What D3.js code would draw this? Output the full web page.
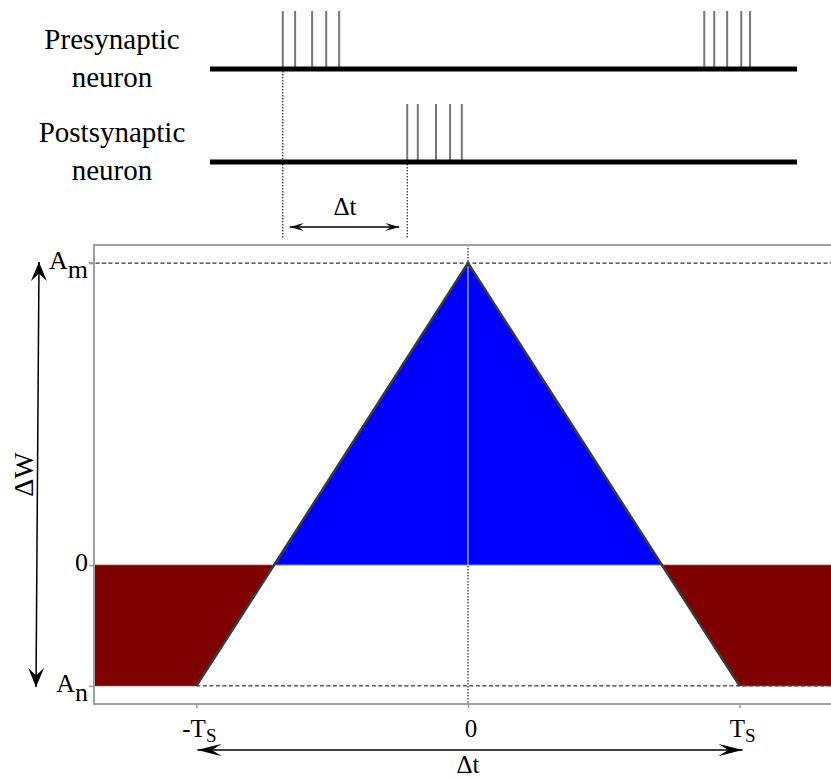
<!DOCTYPE html>
<html>
<head>
<meta charset="utf-8">
<script src="https://cdn.jsdelivr.net/npm/d3@7"></script>
</head>
<body style="margin:0">
<script>
// spike times (ms) on the two trains
const preSpikes = [12.4, 14.5, 17.4, 19.8, 22.0, 84.2, 85.9, 88.1, 90.5, 92.0];
const postSpikes = [33.6, 35.4, 38.5, 40.9, 42.9];
const trainNames = [["Presynaptic", "neuron"], ["Postsynaptic", "neuron"]];

// STDP window, dt in units of Ts and dW in units of Am
const windowDt = [-1, 0, 1];
const windowDw = [-0.4, 1, -0.4];
const xTickValues = [-1, 0, 1];
const xTickMain = ["-T", "0", "T"];
const xTickSub = ["S", "", "S"];
const yTickValues = [-0.4, 0, 1];
const yTickMain = ["A", "0", "A"];
const yTickSub = ["n", "", "m"];

const w = 831, h = 779;
const wrap = d3.select("body").append("div")
  .style("position", "relative").style("width", w + "px").style("height", h + "px");
const svg = wrap.append("svg").attr("width", w).attr("height", h)
  .style("position", "absolute").style("left", 0).style("top", 0);

// labels as html text on top of the svg; baseline sits at 0.8375em with line-height 1
const label = (px, py, size, anchor, rot) => {
  const shift = anchor === "end" ? "-100%" : "-50%";
  return wrap.append("div")
    .style("position", "absolute")
    .style("left", px + "px")
    .style("top", (py - 0.8375 * size) + "px")
    .style("font-family", "'Liberation Serif'")
    .style("font-size", size + "px")
    .style("line-height", 1)
    .style("white-space", "nowrap")
    .style("color", "#000")
    .style("transform-origin", `0 ${0.8375 * size}px`)
    .style("transform", rot ? `rotate(${rot}deg) translateX(${shift})` : `translateX(${shift})`);
};
const withSub = (div, main, sub, dy, subSize) => {
  div.append("span").text(main);
  if (sub) div.append("span")
    .style("position", "relative").style("top", dy + "px")
    .style("font-size", subSize ? subSize + "px" : null)
    .text(sub);
};

const tScale = d3.scaleLinear().domain([0, 100]).range([210, 797]);
const trainY = [69, 162], spikeH = 58;

const xMin = -1.377, xMax = 1.377;
const x = d3.scaleLinear().domain([xMin, xMax]).range([94, 842]);
const y = d3.scaleLinear().domain([-0.46, 1.06]).range([704, 245]);
const An = windowDw[0], Am = windowDw[1];

// ---------- arrows ----------
const defs = svg.append("defs");
const addArrow = (id, len, wid) => {
  defs.append("marker")
      .attr("id", id)
      .attr("markerUnits", "userSpaceOnUse")
      .attr("viewBox", `${-len} ${-wid / 2} ${len + 1} ${wid}`)
      .attr("refX", 0).attr("refY", 0)
      .attr("markerWidth", len + 1).attr("markerHeight", wid)
      .attr("orient", "auto-start-reverse")
    .append("path")
      .attr("d", `M0,0 L${-len},${-wid / 2} L${-len * 0.6},0 L${-len},${wid / 2} Z`)
      .attr("fill", "#000");
};
addArrow("arrSmall", 14, 8);
addArrow("arrBig", 24, 12);
addArrow("arrVert", 19, 16);

// ---------- spike trains ----------
[preSpikes, postSpikes].forEach((spikes, i) => {
  svg.selectAll(null)
     .data(spikes)
     .enter()
     .append("line")
     .attr("x1", d => tScale(d)).attr("x2", d => tScale(d))
     .attr("y1", trainY[i]).attr("y2", trainY[i] - spikeH)
     .attr("stroke", "#777")
     .attr("stroke-width", 2);

  svg.append("line")
     .attr("x1", tScale(0)).attr("x2", tScale(100))
     .attr("y1", trainY[i]).attr("y2", trainY[i])
     .attr("stroke", "#000")
     .attr("stroke-width", 5);
});

// dotted markers for the first spike of each train
const dtY = 238;
[[preSpikes[0], trainY[0]], [postSpikes[0], trainY[1]]].forEach(d => {
  svg.append("line")
     .attr("x1", tScale(d[0])).attr("x2", tScale(d[0]))
     .attr("y1", d[1] + 2).attr("y2", dtY)
     .attr("stroke", "#000")
     .attr("stroke-width", 1)
     .attr("stroke-dasharray", "1.5,1.5");
});

svg.append("line")
   .attr("x1", tScale(preSpikes[0]) + 7).attr("x2", tScale(postSpikes[0]) - 8)
   .attr("y1", 227).attr("y2", 227)
   .attr("stroke", "#000").attr("stroke-width", 1.5)
   .attr("marker-start", "url(#arrSmall)")
   .attr("marker-end", "url(#arrSmall)");

// ---------- STDP window ----------
const crossL = windowDt[0] + (0 - windowDw[0]) / (windowDw[1] - windowDw[0]) * (windowDt[1] - windowDt[0]);
const crossR = windowDt[1] + (0 - windowDw[1]) / (windowDw[2] - windowDw[1]) * (windowDt[2] - windowDt[1]);

const poly = d3.line().x(d => x(d[0])).y(d => y(d[1]));

// dotted vertical at dt = 0
svg.append("line")
   .attr("x1", x(0)).attr("x2", x(0))
   .attr("y1", y(1.06)).attr("y2", y(-0.46))
   .attr("stroke", "#000").attr("stroke-width", 1)
   .attr("stroke-dasharray", "1.5,1.5");

// dashed guides at Am and An
svg.append("line")
   .attr("x1", 89).attr("x2", x(xMax))
   .attr("y1", y(Am)).attr("y2", y(Am))
   .attr("stroke", "#000").attr("stroke-width", 1)
   .attr("stroke-dasharray", "4,2.5");
svg.append("line")
   .attr("x1", x(windowDt[0])).attr("x2", x(xMax))
   .attr("y1", y(An)).attr("y2", y(An))
   .attr("stroke", "#000").attr("stroke-width", 1)
   .attr("stroke-dasharray", "4,2.5");

// depression areas
svg.append("path")
   .attr("d", poly([[xMin, 0], [crossL, 0], [windowDt[0], An], [xMin, An]]) + "Z")
   .attr("fill", "#7f0000")
   .attr("stroke", "#a04040").attr("stroke-width", 0.8);
svg.append("path")
   .attr("d", poly([[crossR, 0], [xMax, 0], [xMax, An], [windowDt[2], An]]) + "Z")
   .attr("fill", "#7f0000")
   .attr("stroke", "#a04040").attr("stroke-width", 0.8);

// potentiation area
svg.append("path")
   .attr("d", poly([[crossL, 0], [windowDt[1], Am], [crossR, 0]]) + "Z")
   .attr("fill", "#0000ff")
   .attr("stroke", "#5fb0ff").attr("stroke-width", 1);

svg.append("line")
   .attr("x1", x(0)).attr("x2", x(0))
   .attr("y1", y(Am) + 3).attr("y2", y(0))
   .attr("stroke", "#b8c8ff").attr("stroke-width", 1.2);

// window edges
svg.append("path")
   .attr("d", poly(windowDt.map((d, i) => [d, windowDw[i]])))
   .attr("fill", "none")
   .attr("stroke", "#3a3a3a")
   .attr("stroke-width", 2.5)
   .attr("stroke-linejoin", "miter");

// frame
svg.append("rect")
   .attr("x", x(xMin)).attr("y", y(1.06))
   .attr("width", x(xMax) - x(xMin)).attr("height", y(-0.46) - y(1.06))
   .attr("fill", "none")
   .attr("stroke", "#a0a0a0")
   .attr("stroke-width", 2);

// axes (ticks only)
const xAxis = d3.axisBottom(x).tickValues(xTickValues).tickSize(4).tickFormat("");
const gx = svg.append("g").attr("transform", `translate(0,${y(-0.46)})`).call(xAxis);
const yAxis = d3.axisLeft(y).tickValues(yTickValues).tickSize(5).tickFormat("");
const gy = svg.append("g").attr("transform", `translate(${x(xMin)},0)`).call(yAxis);
[gx, gy].forEach(g => {
  g.select(".domain").remove();
  g.selectAll(".tick text").remove();
  g.selectAll(".tick line").attr("stroke", "#999").attr("stroke-width", 1.5);
});

// axis arrows
svg.append("line")
   .attr("x1", 39).attr("x2", 36)
   .attr("y1", y(Am) - 1).attr("y2", y(An) + 1)
   .attr("stroke", "#000").attr("stroke-width", 1.5)
   .attr("marker-start", "url(#arrVert)")
   .attr("marker-end", "url(#arrVert)");

svg.append("line")
   .attr("x1", x(windowDt[0]) + 1).attr("x2", x(windowDt[2]) + 3)
   .attr("y1", 750).attr("y2", 750)
   .attr("stroke", "#000").attr("stroke-width", 1.5)
   .attr("marker-start", "url(#arrBig)")
   .attr("marker-end", "url(#arrBig)");

// ---------- text ----------
trainNames.forEach((lines, i) => {
  lines.forEach((s, j) => {
    label(112, trainY[i] - 20 + j * 38, 29).text(s);
  });
});

label((tScale(preSpikes[0]) + tScale(postSpikes[0])) / 2, 215, 25).text("\u0394t");

xTickValues.forEach((v, i) => {
  withSub(label(x(v) + 3, 737, 25), xTickMain[i], xTickSub[i], 5, 19);
});

yTickValues.forEach((v, i) => {
  withSub(label(88, y(v) + 7, 26, "end"), yTickMain[i], yTickSub[i], 9);
});

label(33, y(0.3), 28, "middle", -90).text("\u0394W");

label(x(0), 773, 25).text("\u0394t");
</script>
</body>
</html>
